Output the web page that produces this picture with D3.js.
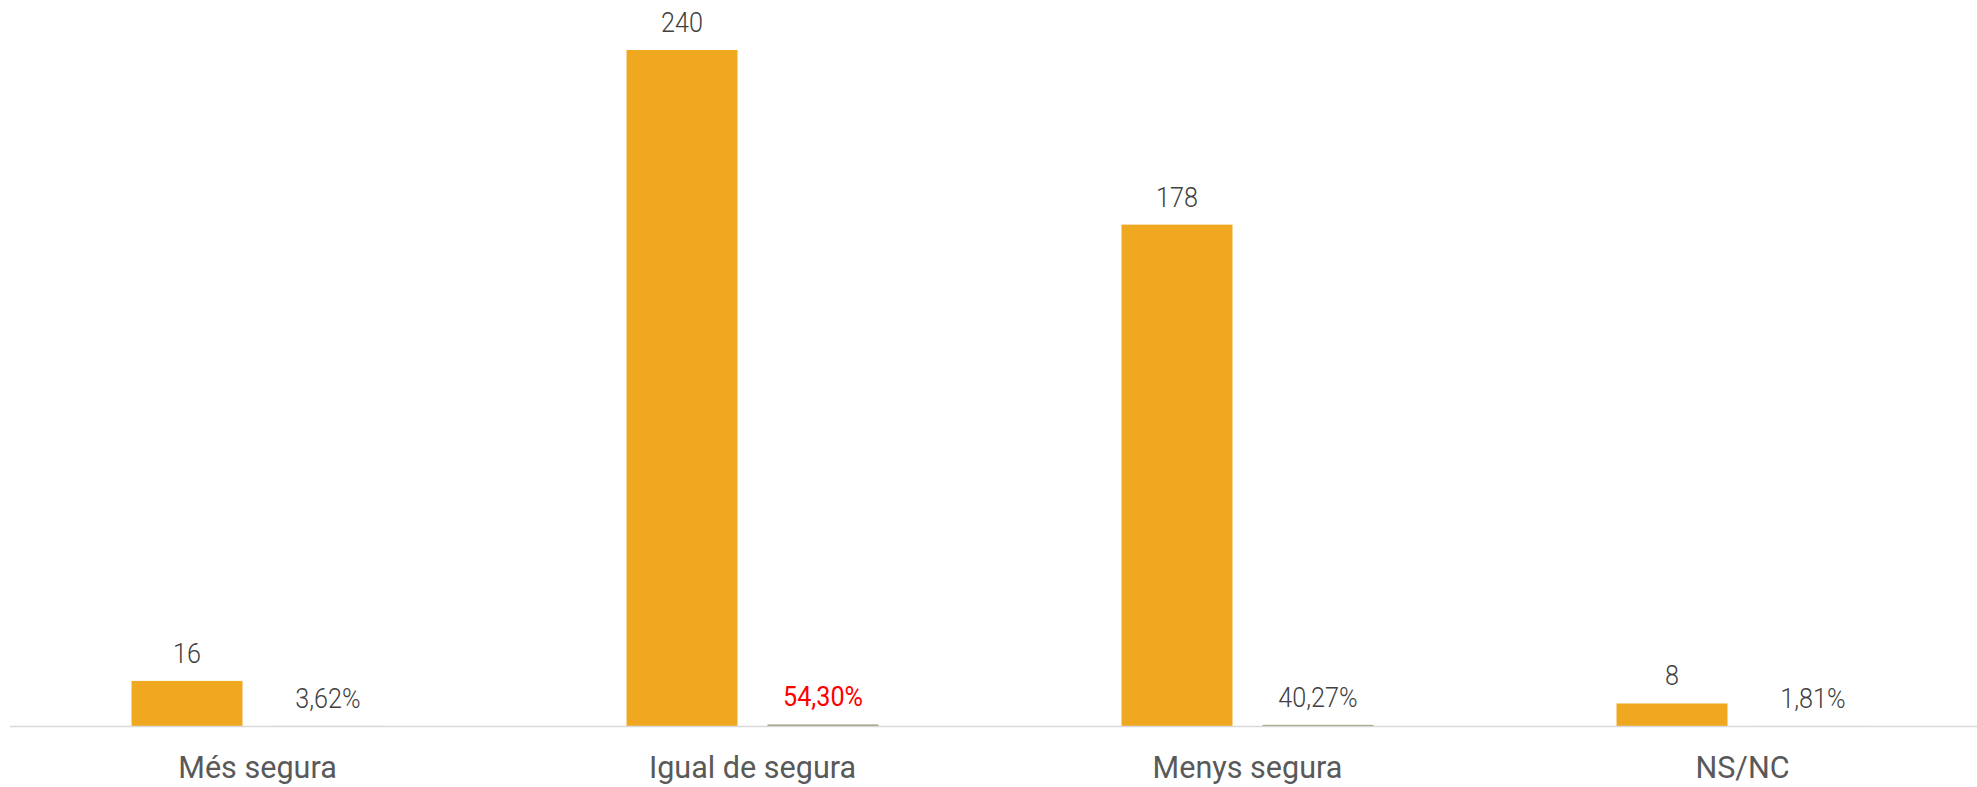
<!DOCTYPE html>
<html>
<head>
<meta charset="utf-8">
<script src="https://cdn.jsdelivr.net/npm/d3@7"></script>
<style>
  html, body { margin: 0; padding: 0; background: #fff; }
  svg { display: block; }
</style>
</head>
<body>
<svg id="chart" width="1977" height="787"></svg>
<script>
const categories = ["Més segura", "Igual de segura", "Menys segura", "NS/NC"];
const counts = [16, 240, 178, 8];
const shares = [0.0362, 0.5430, 0.4027, 0.0181];
const shareLabels = ["3,62%", "54,30%", "40,27%", "1,81%"];
const highlightIndex = 1;

const svg = d3.select("#chart");
const W = 1977, H = 787;
const left = 10, right = 1990, baseY = 726, topY = 50;

const x0 = d3.scaleBand().domain(categories).range([left, right])
  .paddingInner(0.491).paddingOuter(0.2455);
const x1 = d3.scaleBand().domain(["count", "share"]).range([0, x0.bandwidth()])
  .paddingInner(0.2128).paddingOuter(0);
const y = d3.scaleLinear().domain([0, 240]).range([baseY, topY]);

const rows = categories.map((c, i) => ({ c, count: counts[i], share: shares[i], label: shareLabels[i], i }));

const g = svg.append("g");

// count bars
g.selectAll("rect.count").data(rows).enter().append("rect")
  .attr("class", "count")
  .attr("x", d => x0(d.c) + x1("count"))
  .attr("width", x1.bandwidth())
  .attr("y", d => y(d.count))
  .attr("height", d => y(0) - y(d.count))
  .attr("fill", "#EFA820");

// share bars (same axis)
g.selectAll("rect.share").data(rows).enter().append("rect")
  .attr("class", "share")
  .attr("x", d => x0(d.c) + x1("share"))
  .attr("width", x1.bandwidth())
  .attr("y", d => y(d.share))
  .attr("height", d => y(0) - y(d.share))
  .attr("fill", "#9d9878");

// axis line + category labels
const xAxis = d3.axisBottom(x0).tickSize(0).tickPadding(20);
const ax = svg.append("g").attr("transform", `translate(0,${baseY + 0.5})`).call(xAxis);
ax.select(".domain").attr("stroke", "#d9d9d9").attr("stroke-width", 1.5)
  .attr("d", `M${left},0H${W}`);
ax.selectAll("text")
  .attr("dy", null)
  .attr("y", 0)
  .attr("transform", "translate(0,51) scale(0.955,1)")
  .attr("font-family", "Roboto, sans-serif")
  .attr("font-size", 32)
  .attr("font-weight", 400)
  .attr("fill", "#595959");

// count labels
g.selectAll("text.count").data(rows).enter().append("text")
  .attr("class", "count")
  .attr("transform", d => `translate(${x0(d.c) + x1("count") + x1.bandwidth() / 2},${y(d.count) - 18}) scale(0.9,1)`)
  .attr("text-anchor", "middle")
  .attr("font-family", "Roboto, sans-serif")
  .attr("font-size", 28)
  .attr("font-weight", 300)
  .attr("fill", "#404040")
  .text(d => d.count);

// share labels
g.selectAll("text.share").data(rows).enter().append("text")
  .attr("class", "share")
  .attr("transform", d => `translate(${x0(d.c) + x1("share") + x1.bandwidth() / 2},${y(d.share) - 18}) scale(0.9,1)`)
  .attr("text-anchor", "middle")
  .attr("font-family", "Roboto, sans-serif")
  .attr("font-size", 28)
  .attr("font-weight", d => d.i === highlightIndex ? 400 : 300)
  .attr("fill", d => d.i === highlightIndex ? "#ff0000" : "#404040")
  .text(d => d.label);
</script>
</body>
</html>
